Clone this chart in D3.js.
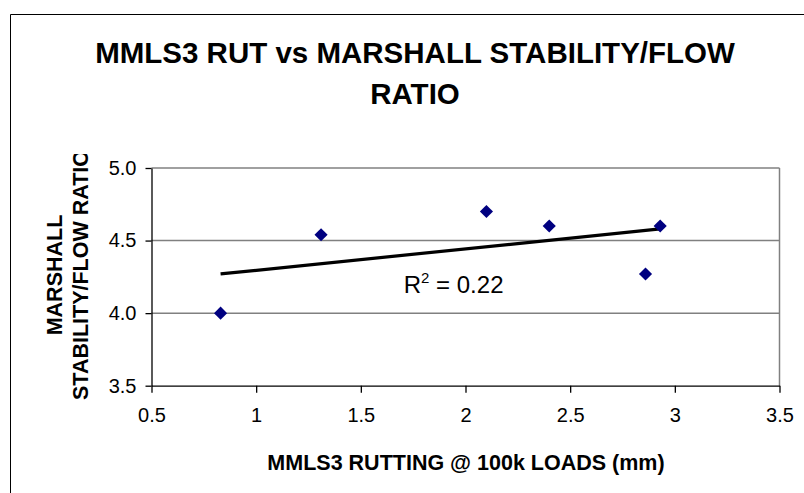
<!DOCTYPE html>
<html>
<head>
<meta charset="utf-8">
<script src="https://cdn.jsdelivr.net/npm/d3@7"></script>
<style>
    body { margin: 0; background: #fff; }
    text { font-family: "Liberation Sans", Arial, sans-serif; }
</style>
</head>
<body>
<svg id="chart"></svg>
<script>
// rutting (mm) vs Marshall stability/flow ratio
const rutting = [0.83, 1.31, 2.10, 2.40, 2.86, 2.93];
const ratio = [4.00, 4.54, 4.70, 4.60, 4.27, 4.60];

// trendline ends as drawn in the picture
const trendX = [0.83, 2.93];
const trendY = [4.27, 4.58];

const xTicks = [0.5, 1, 1.5, 2, 2.5, 3, 3.5];
const yTicks = [3.5, 4.0, 4.5, 5.0];
const yGrid = [4.0, 4.5, 5.0];

class ScatterChart {

    constructor(config) {
        this.config = {
            parent: config.parent,
            width: config.width || 804,
            height: config.height || 493,
            margin: config.margin || { top: 168, right: 24.5, bottom: 107.3, left: 151.5 },
        };
        this.init();
    }

    init() {
        let self = this;

        self.svg = d3.select(self.config.parent)
            .attr('width', self.config.width)
            .attr('height', self.config.height);

        // outer frame (top and left edges visible)
        self.svg.append('path')
            .attr('d', `M10.5,${self.config.height} V14.5 H${self.config.width}`)
            .attr('fill', 'none')
            .attr('stroke', '#000')
            .attr('stroke-width', 1);

        let margin = self.config.margin;
        self.inner_width = self.config.width - margin.left - margin.right;
        self.inner_height = self.config.height - margin.top - margin.bottom;

        self.chart = self.svg.append('g')
            .attr('transform', `translate(${margin.left}, ${margin.top})`);

        self.xscale = d3.scaleLinear()
            .domain([0.5, 3.5])
            .range([0, self.inner_width]);

        self.yscale = d3.scaleLinear()
            .domain([3.5, 5.0])
            .range([self.inner_height, 0]);
    }

    render() {
        let self = this;

        // grid lines
        self.chart.selectAll('line.grid')
            .data(yGrid).enter()
            .append('line')
            .attr('class', 'grid')
            .attr('x1', 0)
            .attr('x2', self.inner_width)
            .attr('y1', d => self.yscale(d))
            .attr('y2', d => self.yscale(d))
            .attr('stroke', '#808080')
            .attr('stroke-width', 1.5);

        // right border
        self.chart.append('line')
            .attr('x1', self.inner_width)
            .attr('x2', self.inner_width)
            .attr('y1', 0)
            .attr('y2', self.inner_height)
            .attr('stroke', '#808080')
            .attr('stroke-width', 1.5);

        let xaxis = d3.axisBottom(self.xscale)
            .tickValues(xTicks)
            .tickFormat(d3.format('~g'))
            .tickSize(7)
            .tickPadding(15)
            .tickSizeOuter(0);

        let yaxis = d3.axisLeft(self.yscale)
            .tickValues(yTicks)
            .tickFormat(d3.format('.1f'))
            .tickSize(6)
            .tickPadding(9)
            .tickSizeOuter(0);

        let xg = self.chart.append('g')
            .attr('transform', `translate(0, ${self.inner_height})`)
            .call(xaxis);

        let yg = self.chart.append('g')
            .call(yaxis);

        [xg, yg].forEach(g => {
            g.selectAll('path, line').attr('stroke', '#000').attr('stroke-width', 1.3);
            g.selectAll('text')
                .attr('font-family', '"Liberation Sans", Arial, sans-serif')
                .attr('font-size', '20px')
                .attr('fill', '#000');
        });

        // trendline
        let line = d3.line()
            .x(d => self.xscale(d[0]))
            .y(d => self.yscale(d[1]));

        self.chart.append('path')
            .datum(d3.zip(trendX, trendY))
            .attr('d', line)
            .attr('fill', 'none')
            .attr('stroke', '#000')
            .attr('stroke-width', 3.2);

        // points
        self.chart.selectAll('path.pt')
            .data(d3.zip(rutting, ratio)).enter()
            .append('path')
            .attr('class', 'pt')
            .attr('d', d3.symbol(d3.symbolDiamond2, 110))
            .attr('transform', d => `translate(${self.xscale(d[0])}, ${self.yscale(d[1])})`)
            .attr('fill', '#000080');

        // R squared label
        let r2 = self.chart.append('text')
            .attr('x', self.xscale(1.705))
            .attr('y', self.yscale(4.14))
            .attr('font-size', '24px')
            .attr('fill', '#000');
        r2.append('tspan').text('R');
        r2.append('tspan').attr('font-size', '15px').attr('dy', -10).text('2');
        r2.append('tspan').attr('dy', 10).text(' = 0.22');

        // title
        let title = self.svg.append('text')
            .attr('x', 415)
            .attr('y', 63)
            .attr('font-size', '29.5px')
            .attr('font-weight', 'bold')
            .attr('text-anchor', 'middle');
        title.append('tspan').attr('x', 415).text('MMLS3 RUT vs MARSHALL STABILITY/FLOW');
        title.append('tspan').attr('x', 415).attr('dy', 41).text('RATIO');

        // x axis label
        self.svg.append('text')
            .attr('x', 466)
            .attr('y', 470)
            .attr('font-size', '21.5px')
            .attr('font-weight', 'bold')
            .attr('text-anchor', 'middle')
            .text('MMLS3 RUTTING @ 100k LOADS (mm)');

        // y axis label, clipped at the top like the original
        self.svg.append('clipPath')
            .attr('id', 'yclip')
            .append('rect')
            .attr('x', 0).attr('y', 154)
            .attr('width', 140).attr('height', 300);

        let ylab = self.svg.append('g')
            .attr('clip-path', 'url(#yclip)')
            .append('text')
            .attr('transform', 'translate(62, 275) rotate(-90)')
            .attr('font-size', '21.5px')
            .attr('font-weight', 'bold')
            .attr('text-anchor', 'middle');
        ylab.append('tspan').attr('x', 0).attr('y', 0).text('MARSHALL');
        ylab.append('tspan').attr('x', 0).attr('y', 26).text('STABILITY/FLOW RATIO');
    }
}

let chart = new ScatterChart({ parent: '#chart' });
chart.render();
</script>
</body>
</html>
